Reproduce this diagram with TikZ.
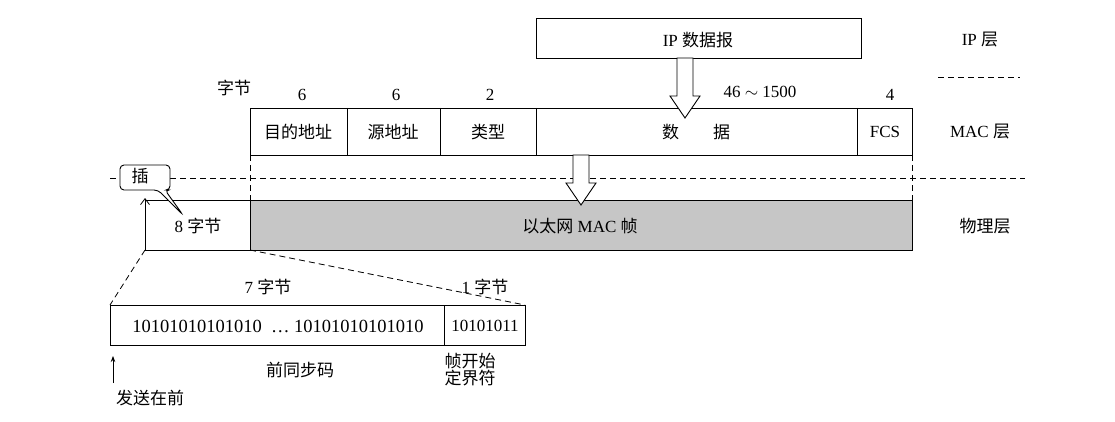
\documentclass[tikz,border=0pt]{standalone}
\usepackage{fontspec}
\setmainfont{Liberation Serif}
\newfontfamily\cjk{Noto Sans CJK SC}
\usetikzlibrary{arrows.meta}
\begin{document}
\begin{tikzpicture}[x=1pt,y=-1pt,font=\fontsize{17}{19}\selectfont,
  lbl/.style={inner sep=1pt},
  dsh/.style={dash pattern=on 6pt off 4pt,line width=0.8pt},
  holl/.style={draw,line width=0.9pt,fill=white}]
\useasboundingbox (0,0) rectangle (1115,422);
% IP layer
\draw[line width=0.9pt] (536,18) rectangle (861,58);
\node[lbl] (ip) at (698,40) {IP {\cjk 数据报}};
\node[lbl] (iplayer) at (980,40) {IP {\cjk 层}};
\draw[dsh] (938,77) -- (1020,77);
% numbers
\node[lbl] (zj) at (234,88) {\cjk 字节};
\node[lbl] at (302,95) {6};
\node[lbl] at (396,95) {6};
\node[lbl] at (490,95) {2};
\node[lbl] at (760,92) {46 $\sim$ 1500};
\node[lbl] at (890,95) {4};
% MAC row
\draw[line width=0.9pt] (250,108) rectangle (912,155);
\foreach \x in {347,440,536,857} \draw[line width=0.9pt] (\x,108) -- (\x,155);
\node[lbl] at (298,132) {\cjk 目的地址};
\node[lbl] at (393,132) {\cjk 源地址};
\node[lbl] at (488,132) {\cjk 类型};
\node[lbl] at (696,132) {\cjk 数\qquad 据};
\node[lbl] at (885,132) {FCS};
\node[lbl] (maclayer) at (980,132) {MAC {\cjk 层}};
% physical
\draw[dsh] (110,178) -- (1025,178);
\draw[dsh] (250,155) -- (250,200);
\draw[dsh] (912,155) -- (912,200);
\draw[line width=0.9pt,fill=gray!45] (250,200) rectangle (912,250);
\draw[line width=0.9pt] (145,200) rectangle (250,250);
\node[lbl] at (198,226) {8 {\cjk 字节}};
\node[lbl] at (580,226) {{\cjk 以太网} MAC {\cjk 帧}};
\node[lbl] (phy) at (985,226) {\cjk 物理层};
% hollow arrows
\draw[holl] (677,58) -- (677,96) -- (670,96) -- (685,118) -- (700,96) -- (693,96) -- (693,58) -- cycle;
\draw[holl] (573,155) -- (573,183) -- (566,183) -- (581,205) -- (596,183) -- (589,183) -- (589,155) -- cycle;
% callout
\draw[line width=0.9pt,fill=white,rounded corners=4pt] (120,165) -- (120,190) -- (158,190) -- (183,215) -- (165,190) -- (170,190) -- (170,165) -- cycle;
\node[lbl] (cha) at (140,176) {\cjk 插};
\draw[-{Straight Barb[length=6pt,width=9pt]},line width=0.8pt] (145,240) -- (145,198);
% bottom
\draw[dsh] (145,250) -- (110,305);
\draw[dsh] (250,250) -- (525,305);
\draw[line width=0.9pt] (110,305) rectangle (525,345);
\draw[line width=0.9pt] (444,305) -- (444,345);
\node[lbl] at (268,287) {7 {\cjk 字节}};
\node[lbl] at (485,287) {1 {\cjk 字节}};
\node[lbl,font=\fontsize{18.5}{19}\selectfont] at (278,326) {10101010101010\ \ \ldots\ 10101010101010};
\node[lbl] at (485,326) {10101011};
\draw[-{Stealth[length=6pt]},line width=0.8pt] (113,383) -- (113,356);
\node[lbl] at (150,398) {\cjk 发送在前};
\node[lbl] at (300,370) {\cjk 前同步码};
\node[lbl,align=center,font=\fontsize{17}{17}\cjk] at (470,370) {帧开始\\定界符};
\end{tikzpicture}
\end{document}
